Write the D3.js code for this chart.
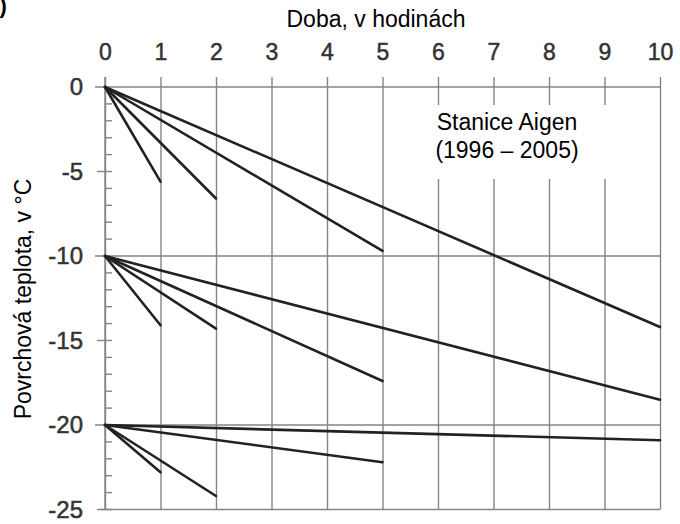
<!DOCTYPE html>
<html lang="cs">
<head>
<meta charset="utf-8">
<title>Povrchová teplota</title>
<style>
html, body {
    margin: 0;
    background: #fff;
}
svg text {
    font-family: "Liberation Sans", Arial, sans-serif;
}
.grid line, .grid path { stroke: #858585; stroke-width: 1.4; }
.tick-label { fill: #333; stroke: #333; stroke-width: 0.5; font-size: 23px; }
.run { stroke: #222; stroke-width: 2.6; fill: none; stroke-linecap: round; }
</style>
</head>
<body>
<div id="chart"></div>
<script src="https://cdnjs.cloudflare.com/ajax/libs/d3/7.8.5/d3.min.js"></script>
<script>
(function() {
  'use strict';

  // Data
  const hourTicks = [0, 1, 2, 3, 4, 5, 6, 7, 8, 9, 10];
  const tempTicks = [0, -5, -10, -15, -20, -25];
  const gridTemps = [0, -10, -20, -25];
  const durations = [1, 2, 5, 10];
  const startTemps = [0, -10, -20];
  const endTemps = [
    [-5.6, -6.6, -9.7, -14.2],
    [-14.1, -14.3, -17.4, -18.5],
    [-22.8, -24.2, -22.2, -20.9]
  ];

  const width = 680, height = 524;
  const left = 105, right = 660, top = 87, bottom = 509.5;
  const gridTop = 77;

  const x = d3.scaleLinear().domain([0, 10]).range([left, right]);
  const y = d3.scaleLinear().domain([0, -25]).range([top, bottom]);

  const svg = d3.select('#chart').append('svg')
    .attr('width', width)
    .attr('height', height);

  // plain hyphen for negatives, like the original
  const fmt = d => String(d);

  // vertical grid lines with labels on top
  const xAxis = svg.append('g')
    .attr('class', 'grid')
    .attr('transform', 'translate(0,' + gridTop + ')')
    .call(d3.axisTop(x).tickValues(hourTicks).tickFormat(fmt).tickSize(-(bottom - gridTop)).tickPadding(17));
  xAxis.select('.domain').remove();
  xAxis.selectAll('text').attr('class', 'tick-label').attr('font-family', null).attr('font-size', null);

  // horizontal grid lines
  svg.append('g').attr('class', 'grid')
    .selectAll('line')
    .data(gridTemps)
    .enter()
    .append('line')
    .attr('x1', d => d === -25 ? left - 5 : left - 10)
    .attr('x2', x(10))
    .attr('y1', d => y(d))
    .attr('y2', d => y(d));

  // left axis line
  svg.append('g').attr('class', 'grid')
    .append('line')
    .attr('x1', left).attr('x2', left)
    .attr('y1', gridTop).attr('y2', bottom);

  // minor ticks inside the axis
  svg.append('g').attr('class', 'grid')
    .selectAll('line')
    .data(d3.range(0, -26, -1).filter(d => d % 10 !== 0))
    .enter()
    .append('line')
    .attr('x1', d => d % 5 === 0 ? left - 8 : left)
    .attr('x2', left + 7)
    .attr('y1', d => y(d))
    .attr('y2', d => y(d));

  // y labels
  const yAxis = svg.append('g')
    .attr('transform', 'translate(' + left + ',0)')
    .call(d3.axisLeft(y).tickValues(tempTicks).tickFormat(fmt).tickSize(0).tickPadding(22));
  yAxis.select('.domain').remove();
  yAxis.selectAll('text').attr('class', 'tick-label').attr('font-family', null).attr('font-size', null)
    .style('font-size', '24px');

  // blank out the grid behind the station label
  svg.append('rect')
    .attr('x', x(5.4)).attr('y', 105)
    .attr('width', x(9.2) - x(5.4)).attr('height', 74)
    .attr('fill', '#fff');

  // runs: from each starting temperature to each duration
  const line = d3.line().x(d => x(d[0])).y(d => y(d[1]));
  startTemps.forEach(function(t0, g) {
    durations.forEach(function(h, i) {
      svg.append('path')
        .attr('class', 'run')
        .attr('d', line([[0, t0], [h, endTemps[g][i]]]));
    });
  });

  // texts
  svg.append('text')
    .attr('x', 376).attr('y', 27)
    .attr('text-anchor', 'middle')
    .attr('font-size', 23)
    .text('Doba, v hodinách');

  svg.append('text')
    .attr('transform', 'translate(31,299) rotate(-90)')
    .attr('text-anchor', 'middle')
    .attr('font-size', 23)
    .text('Povrchová teplota, v °C');

  svg.append('text')
    .attr('x', 507).attr('y', 130)
    .attr('text-anchor', 'middle')
    .attr('font-size', 23)
    .text('Stanice Aigen');
  svg.append('text')
    .attr('x', 507).attr('y', 158)
    .attr('text-anchor', 'middle')
    .attr('font-size', 23)
    .text('(1996 – 2005)');

  svg.append('text')
    .attr('x', -14).attr('y', 13)
    .attr('font-size', 22)
    .attr('font-weight', 'bold')
    .text('b)');
}());
</script>
</body>
</html>
